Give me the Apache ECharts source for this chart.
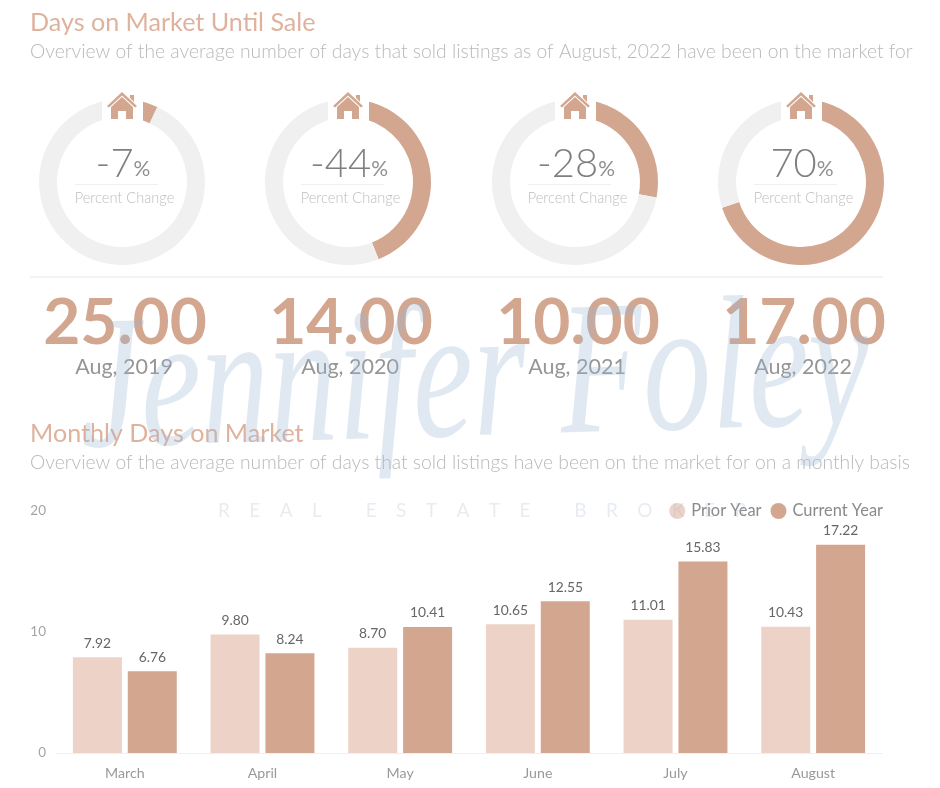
<!DOCTYPE html>
<html>
<head>
<meta charset="utf-8">
<style>
  html, body { margin: 0; padding: 0; background: #fff; }
  #chart { width: 940px; height: 788px; }
</style>
</head>
<body>
<div id="chart"></div>
<script src="https://cdn.jsdelivr.net/npm/echarts@6/dist/echarts.min.js"></script>
<script>
const months = ['March', 'April', 'May', 'June', 'July', 'August'];
const priorYear = [7.92, 9.80, 8.70, 10.65, 11.01, 10.43];
const currentYear = [6.76, 8.24, 10.41, 12.55, 15.83, 17.22];

const percentChange = [-7, -44, -28, 70];
const daysOnMarket = ['25.00', '14.00', '10.00', '17.00'];
const periods = ['Aug, 2019', 'Aug, 2020', 'Aug, 2021', 'Aug, 2022'];
const centers = [122, 348, 575, 801];

const ACCENT = '#d3a690';
const LIGHT = '#edd3c7';
const FONT = 'Lato, "Open Sans", sans-serif';

const chart = echarts.init(document.getElementById('chart'));

const text = (x, y, t, size, color, extra) => ({
  type: 'text', x, y, z: 10,
  style: Object.assign({ text: t, fontFamily: FONT, fontSize: size, fill: color, align: 'left', verticalAlign: 'middle' }, extra)
});

// house icon, drawn around its own centre
const house = (cx) => ({
  type: 'group', x: cx, y: 92, z: 6,
  children: [
    { type: 'polygon', z: 6, shape: { points: [[0, 0], [-15, 14], [-13, 15.5], [0, 3.5], [13, 15.5], [15, 14]] }, style: { fill: ACCENT } },
    { type: 'polygon', z: 6, shape: { points: [[0, 5], [-11, 15], [-11, 27], [-4, 27], [-4, 19], [4, 19], [4, 27], [11, 27], [11, 15]] }, style: { fill: ACCENT } },
    { type: 'polygon', z: 6, shape: { points: [[8, 3], [12, 3], [12, 10], [8, 6]] }, style: { fill: ACCENT } }
  ]
});

const graphics = [
  text(30, 23, 'Days on Market Until Sale', 25.1, '#dfb29d'),
  text(30, 52, 'Overview of the average number of days that sold listings as of August, 2022 have been on the market for', 19.3, '#b9b9b9', { fontWeight: 300 }),
  text(30, 434, 'Monthly Days on Market', 25.1, '#dfb29d'),
  text(30, 463, 'Overview of the average number of days that sold listings have been on the market for on a monthly basis', 19.3, '#b9b9b9', { fontWeight: 300 }),
  { type: 'rect', z: 10, shape: { x: 30, y: 276, width: 853, height: 2 }, style: { fill: '#f3f3f3' } }
];

const pies = percentChange.map((p, i) => {
  const share = Math.abs(p);
  return {
    type: 'pie',
    center: [centers[i], 182],
    radius: [65, 83],
    startAngle: 90,
    silent: true,
    label: { show: false },
    labelLine: { show: false },
    data: [
      { value: share, itemStyle: { color: ACCENT } },
      { value: 100 - share, itemStyle: { color: '#f0f0f0' } }
    ]
  };
});

centers.forEach((cx, i) => {
  const pct = String(percentChange[i]);
  graphics.push(
    { type: 'rect', z: 5, shape: { x: cx - 20, y: 92, width: 41, height: 32 }, style: { fill: '#fff' } },
    house(cx),
    { type: 'text', z: 10, x: cx + 1, y: 164,
      style: {
        text: '{n|' + pct + '}{p|%}', align: 'center', verticalAlign: 'middle',
        rich: {
          n: { fontFamily: FONT, fontSize: 40, fontWeight: 300, fill: '#7f7f7f' },
          p: { fontFamily: FONT, fontSize: 21, fontWeight: 400, fill: '#8f8f8f', padding: [10, 0, 0, 0] }
        }
      } },
    { type: 'rect', z: 10, shape: { x: cx - 47, y: 184, width: 83, height: 1 }, style: { fill: '#efefef' } },
    text(cx + 2.5, 198, 'Percent Change', 14.6, '#bdbdbd', { align: 'center', fontWeight: 300 }),
    text(cx + 3, 323, daysOnMarket[i], 64, ACCENT, { align: 'center', fontWeight: 700 }),
    text(cx + 2, 367, periods[i], 21.5, '#969696', { align: 'center' })
  );
});

// watermark sits on top of the text, same as the source
graphics.push(
  { type: 'text', z: 20, x: 475, y: 385, scaleY: 1.4, rotation: 0.03,
    style: { text: 'Jennifer Foley', align: 'center', verticalAlign: 'middle',
      fontFamily: '"Liberation Serif", serif', fontStyle: 'italic', fontSize: 136,
      fill: 'rgba(160,184,212,0.32)' } },
  { type: 'text', z: 20, x: 218, y: 511,
    style: { text: 'REAL ESTATE BROKER'.split('').join('    '), align: 'left', verticalAlign: 'middle',
      fontFamily: FONT, fontSize: 19, fill: 'rgba(160,178,205,0.25)' } }
);

const barLabel = {
  show: true, position: 'top', distance: 7,
  fontFamily: FONT, fontSize: 13.8, color: '#666',
  formatter: (p) => p.value.toFixed(2)
};

chart.setOption({
  animation: false,
  textStyle: { fontFamily: FONT },
  graphic: graphics,
  legend: {
    top: 498, right: 52,
    itemWidth: 16, itemHeight: 16, itemGap: 9,
    icon: 'circle',
    textStyle: { fontFamily: FONT, fontSize: 16.4, color: '#8a8a8a', padding: [0, 0, 0, 1] },
    data: ['Prior Year', 'Current Year']
  },
  grid: { left: 56, right: 58, top: 511, height: 242 },
  xAxis: {
    type: 'category', data: months,
    axisLine: { lineStyle: { color: '#f0f0f0' } },
    axisTick: { show: false },
    axisLabel: { color: '#999', fontSize: 14.2, margin: 13 }
  },
  yAxis: {
    type: 'value', min: 0, max: 20, interval: 10,
    axisLine: { show: false },
    axisTick: { show: false },
    splitLine: { show: false },
    axisLabel: { color: '#a5a5a5', fontSize: 13.5, margin: 10 }
  },
  series: pies.concat([
    { name: 'Prior Year', type: 'bar', data: priorYear, barWidth: 49, barGap: '12%', itemStyle: { color: LIGHT }, label: barLabel },
    { name: 'Current Year', type: 'bar', data: currentYear, barWidth: 49, itemStyle: { color: ACCENT }, label: barLabel }
  ])
});
</script>
</body>
</html>
